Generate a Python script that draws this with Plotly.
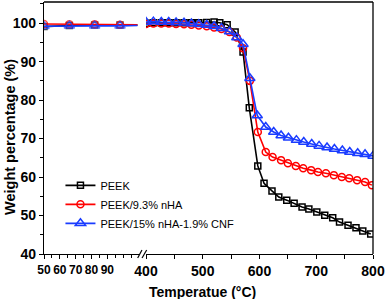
import plotly.graph_objects as go

# ---- data ----
low_T = [50, 66, 82, 98, 109]
peek_low = [99.1, 99.4, 99.5, 99.5, 99.5]
nha_low = [99.8, 99.7, 99.7, 99.6, 99.6]
cnf_low = [99.2, 99.3, 99.3, 99.3, 99.4]
low_marker_sizes = [7, 7, 7, 7, 0]

peek_T = [400, 413, 427, 440, 453, 467, 480, 493, 507, 520, 530, 543, 557, 571, 582, 597,
          608, 622, 634, 648, 661, 675, 687, 701, 715, 729, 741, 756, 770, 782, 796]
peek_W = [100.0, 100.1, 100.1, 100.1, 100.1, 100.1, 100.1, 100.1, 100.2, 100.3, 100.1, 99.6,
          97.7, 92.5, 78.0, 62.9, 58.4, 56.4, 54.8, 54.0, 53.2, 52.2, 51.7, 50.9, 50.1, 49.4,
          48.3, 47.5, 46.8, 46.0, 45.2]

nha_T = [400, 413, 427, 440, 453, 467, 480, 493, 507, 520, 533, 547, 560, 571, 583, 597,
         611, 623, 638, 650, 664, 677, 691, 703, 717, 731, 745, 758, 772, 786, 798]
nha_W = [99.8, 99.9, 99.9, 99.9, 99.8, 99.7, 99.6, 99.4, 99.2, 98.9, 98.5, 97.7, 96.3, 93.5,
         85.0, 71.7, 66.5, 65.2, 64.4, 63.6, 62.9, 62.3, 61.8, 61.3, 61.0, 60.5, 60.0, 59.7,
         59.2, 58.7, 57.9]

cnf_T = [400, 413, 427, 440, 453, 467, 480, 493, 507, 520, 533, 547, 560, 571, 583, 596,
         611, 625, 638, 651, 665, 678, 692, 705, 719, 732, 746, 759, 773, 786, 800]
cnf_W = [100.3, 100.4, 100.3, 100.3, 100.2, 100.1, 99.9, 99.7, 99.5, 99.2, 98.7, 97.8, 96.3,
         94.5, 85.7, 76.0, 73.0, 71.7, 70.8, 70.2, 69.6, 69.1, 68.6, 68.1, 67.7, 67.3, 66.9,
         66.5, 66.2, 65.9, 65.5]

names = ["PEEK", "PEEK/9.3% nHA", "PEEK/15% nHA-1.9% CNF"]
colors = ["#000000", "#ff0000", "#1a3cff"]
symbols = ["square-open", "circle-open", "triangle-up-open"]
sizes = [6, 7, 9]

left_x_ticks = [50, 60, 70, 80, 90]
right_x_ticks = [400, 500, 600, 700, 800]
y_ticks = [40, 50, 60, 70, 80, 90, 100]

fig = go.Figure()
series = [(peek_low, peek_T, peek_W), (nha_low, nha_T, nha_W), (cnf_low, cnf_T, cnf_W)]
for i, (lowW, T, W) in enumerate(series):
    fig.add_trace(go.Scatter(
        x=low_T, y=lowW, xaxis="x", yaxis="y", mode="lines+markers", showlegend=False,
        line=dict(color=colors[i], width=1.6),
        marker=dict(symbol=symbols[i], size=[s * sizes[i] / 7 for s in low_marker_sizes],
                    color=colors[i], line=dict(width=1.5, color=colors[i])),
    ))
    fig.add_trace(go.Scatter(
        x=T, y=W, xaxis="x2", yaxis="y", mode="lines+markers", name=names[i],
        line=dict(color=colors[i], width=1.6),
        marker=dict(symbol=symbols[i], size=sizes[i], color=colors[i],
                    line=dict(width=1.5, color=colors[i])),
    ))

fam = "Liberation Sans, Arial"
tickfont = dict(family=fam, size=14, color="black", weight="bold")
tickfont_left = dict(family=fam, size=12, color="black", weight="bold")
x1_end = 95 / 329
x2_start = 102 / 329

fig.update_layout(
    width=387, height=299,
    margin=dict(l=44, r=14, t=2, b=45),
    plot_bgcolor="white", paper_bgcolor="white",
    xaxis=dict(domain=[0, x1_end], range=[50, 110], tickvals=left_x_ticks, tickangle=0,
               ticks="outside", ticklen=4, tickwidth=1.2, tickcolor="black",
               minor=dict(tickvals=[55, 65, 75, 85, 95, 100, 105], ticks="outside", ticklen=3,
                          tickcolor="black", tickwidth=1),
               showline=True, linecolor="black", linewidth=1.3, showgrid=False, zeroline=False,
               tickfont=tickfont_left, anchor="y"),
    xaxis2=dict(domain=[x2_start, 1], range=[400, 800], tickvals=right_x_ticks, tickangle=0,
                ticks="outside", ticklen=4, tickwidth=1.2, tickcolor="black",
                minor=dict(tickvals=[450, 550, 650, 750], ticks="outside", ticklen=4,
                           tickcolor="black", tickwidth=1.2),
                showline=True, linecolor="black", linewidth=1.3, showgrid=False, zeroline=False,
                tickfont=tickfont, anchor="y"),
    yaxis=dict(range=[40, 105.5], tickvals=y_ticks, ticks="outside", ticklen=4, tickwidth=1.2,
               tickcolor="black",
               minor=dict(dtick=5, ticks="outside", ticklen=3, tickcolor="black", tickwidth=1),
               showline=True, linecolor="black", linewidth=1.3, showgrid=False, zeroline=False,
               tickfont=tickfont, anchor="x"),
    legend=dict(x=0.05, y=0.33, xanchor="left", yanchor="top", bgcolor="rgba(0,0,0,0)",
                font=dict(family=fam, size=11, color="black"),
                tracegroupgap=0, itemwidth=30),
    shapes=[
        dict(type="line", xref="paper", yref="paper", x0=0, x1=1, y0=1, y1=1,
             line=dict(color="black", width=1.3)),
        dict(type="line", xref="paper", yref="paper", x0=1, x1=1, y0=0, y1=1,
             line=dict(color="black", width=1.3)),
        dict(type="line", xref="paper", yref="paper", x0=x1_end - 0.004, x1=x1_end + 0.009,
             y0=-0.016, y1=0.016, line=dict(color="black", width=1.2)),
        dict(type="line", xref="paper", yref="paper", x0=x2_start - 0.012, x1=x2_start + 0.002,
             y0=-0.016, y1=0.016, line=dict(color="black", width=1.2)),
    ],
    annotations=[
        dict(text="Temperatue (°C)", xref="paper", yref="paper", x=0.483, y=-0.113,
             xanchor="center", yanchor="top", showarrow=False,
             font=dict(family=fam, size=14, color="black", weight="bold")),
        dict(text="Weight percentage (%)", xref="paper", yref="paper", x=-0.134, y=0.464,
             xanchor="left", yanchor="middle", textangle=-90, showarrow=False,
             font=dict(family=fam, size=14.5, color="black", weight="bold")),
    ],
)

fig.write_html("out.html", config={"displayModeBar": False},
               post_script="document.body.style.margin='0px';document.body.style.overflow='hidden';")
